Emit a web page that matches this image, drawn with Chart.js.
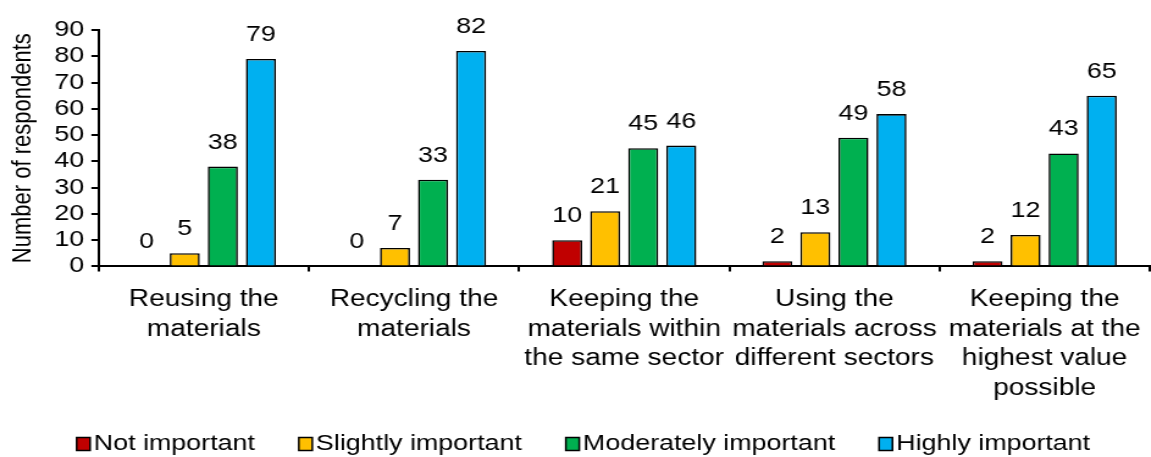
<!DOCTYPE html>
<html>
<head>
<meta charset="utf-8">
<script src="https://cdn.jsdelivr.net/npm/chart.js@4/dist/chart.umd.min.js"></script>
<style>
  html, body { margin: 0; padding: 0; background: #fff; overflow: hidden; }
  /* chart is laid out narrow and widened to the page, like the exported figure */
  #wrap { width: 943px; height: 457px; transform: scaleX(1.2205); transform-origin: 0 0; }
</style>
</head>
<body>
<div id="wrap"><canvas id="chart"></canvas></div>
<script>
const categories = [
  ["Reusing the", "materials"],
  ["Recycling the", "materials"],
  ["Keeping the", "materials within", "the same sector"],
  ["Using the", "materials across", "different sectors"],
  ["Keeping the", "materials at the", "highest value", "possible"],
];

const notImportant = [0, 0, 10, 2, 2];
const slightlyImportant = [5, 7, 21, 13, 12];
const moderatelyImportant = [38, 33, 45, 49, 43];
const highlyImportant = [79, 82, 46, 58, 65];

const yTicks = [0, 10, 20, 30, 40, 50, 60, 70, 80, 90];

const font = "'Liberation Sans', Arial, sans-serif";

// values written above each bar
const valueLabels = {
  id: "valueLabels",
  afterDatasetsDraw(chart) {
    const ctx = chart.ctx;
    ctx.save();
    ctx.font = "22px " + font;
    ctx.fillStyle = "#000";
    ctx.textAlign = "center";
    ctx.textBaseline = "alphabetic";
    chart.data.datasets.forEach((ds, i) => {
      chart.getDatasetMeta(i).data.forEach((bar, j) => {
        ctx.fillText(ds.data[j], bar.x, bar.y - 18);
      });
    });
    ctx.restore();
  },
};

// legend row under the chart: small boxed square tight against the text
const legendRow = {
  id: "legendRow",
  afterDraw(chart) {
    const ctx = chart.ctx;
    const items = chart.data.datasets;
    const boxW = 11, boxH = 13, gap = 3, spacing = 36;
    const y = 444;
    ctx.save();
    ctx.font = "22px " + font;
    const widths = items.map((d) => ctx.measureText(d.label).width);
    const total = widths.reduce((a, w) => a + boxW + gap + w, 0) + spacing * (items.length - 1);
    let x = 478 - total / 2;
    items.forEach((d, i) => {
      ctx.fillStyle = d.backgroundColor;
      ctx.fillRect(x, y - boxH / 2, boxW, boxH);
      ctx.strokeStyle = "#000";
      ctx.lineWidth = 1.5;
      ctx.strokeRect(x, y - boxH / 2, boxW, boxH);
      ctx.fillStyle = "#000";
      ctx.textAlign = "left";
      ctx.textBaseline = "middle";
      ctx.fillText(d.label, x + boxW + gap, y);
      x += boxW + gap + widths[i] + spacing;
    });
    ctx.restore();
  },
};

function series(label, data, color) {
  return {
    label,
    data,
    backgroundColor: color,
    borderColor: "#000",
    borderWidth: 1.6,
    categoryPercentage: 0.724,
    barPercentage: 0.79,
  };
}

new Chart(document.getElementById("chart"), {
  type: "bar",
  data: {
    labels: categories,
    datasets: [
      series("Not important", notImportant, "#C00000"),
      series("Slightly important", slightlyImportant, "#FFC000"),
      series("Moderately important", moderatelyImportant, "#00B050"),
      series("Highly important", highlyImportant, "#00B0F0"),
    ],
  },
  options: {
    responsive: true,
    maintainAspectRatio: false,
    animation: false,
    layout: { padding: { top: 30, right: 1, left: 6, bottom: 40 } },
    plugins: {
      tooltip: { enabled: false },
      legend: { display: false },
    },
    scales: {
      x: {
        // let the axis run to the right edge even if the last label is wide
        afterFit(axis) {
          axis.paddingRight = 0;
        },
        grid: {
          offset: true,
          drawOnChartArea: false,
          color: "#000",
          tickLength: 5,
          lineWidth: 2,
        },
        border: { color: "#000", width: 2 },
        ticks: {
          color: "#000",
          font: { size: 23, family: font, lineHeight: 1.3 },
          maxRotation: 0,
          autoSkip: false,
          padding: 13,
        },
      },
      y: {
        min: 0,
        max: 90,
        afterBuildTicks(axis) {
          axis.ticks = yTicks.map((v) => ({ value: v }));
        },
        grid: {
          drawOnChartArea: false,
          color: "#000",
          tickLength: 6,
          lineWidth: 2,
        },
        border: { color: "#000", width: 2 },
        ticks: {
          color: "#000",
          font: { size: 22, family: font },
          padding: 6,
          autoSkip: false,
        },
        title: {
          display: true,
          text: "Number of respondents",
          color: "#000",
          font: { size: 22, family: font },
          padding: { top: 0, bottom: 6 },
        },
      },
    },
  },
  plugins: [valueLabels, legendRow],
});
</script>
</body>
</html>
